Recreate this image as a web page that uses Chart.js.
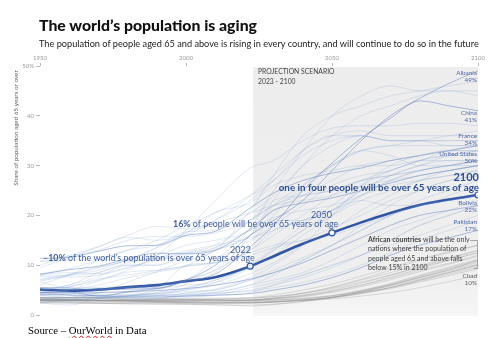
<!DOCTYPE html>
<html>
<head>
<meta charset="utf-8">
<script src="https://cdn.jsdelivr.net/npm/chart.js@4"></script>
<style>
  html, body { margin: 0; padding: 0; background: #fff; }
  body { width: 499px; height: 338px; position: relative; overflow: hidden; font-family: Lato, "Open Sans", sans-serif; }
  #wrap { position: absolute; left: 0; top: 0; width: 499px; height: 338px; }
  .title { position: absolute; left: 39px; top: 15px; font-size: 15.8px; font-weight: 900; color: #111; white-space: nowrap; }
  .subtitle { position: absolute; left: 39px; top: 38px; font-size: 9.2px; color: #222; white-space: nowrap; }
  .source { position: absolute; left: 28px; top: 325px; font-family: "Liberation Serif", "Times New Roman", serif; font-size: 10.8px; line-height: 11px; color: #000; white-space: nowrap; }
  .source u { text-decoration: underline wavy #d22; text-decoration-thickness: 1px; text-underline-offset: 1px; }
</style>
</head>
<body>
<div id="wrap"><canvas id="chart" width="499" height="338"></canvas></div>
<div class="title">The world’s population is aging</div>
<div class="subtitle">The population of people aged 65 and above is rising in every country, and will continue to do so in the future</div>
<div class="source">Source – <u>OurWorld</u> in Data</div>
<script>
// ============================
// DATA
// ============================
const years = [1950, 1960, 1970, 1980, 1990, 2000, 2010, 2022, 2030, 2040, 2050, 2060, 2070, 2080, 2090, 2100];
const xTicks = [1950, 2000, 2050, 2100];
const yTicks = [0, 10, 20, 30, 40, 50];

const world = [5.1, 4.9, 5.1, 5.6, 6.0, 6.8, 7.6, 9.8, 11.8, 14.3, 16.5, 18.6, 20.5, 22.1, 23.2, 24.1];

// highlighted countries (labelled at the right edge)
const albania  = [5.5, 5.4, 5.0, 5.2, 5.3, 7.0, 10.0, 16.0, 19.0, 23.0, 29.0, 35.0, 40.0, 43.5, 46.5, 49.0];
const china    = [4.5, 4.6, 3.8, 4.6, 5.3, 6.8, 8.2, 13.7, 18.0, 25.0, 30.5, 35.5, 39.5, 43.0, 42.0, 41.0];
const france   = [11.4, 11.6, 12.8, 13.9, 14.0, 16.0, 16.8, 21.5, 24.5, 27.0, 28.5, 29.5, 31.0, 32.0, 33.0, 34.0];
const usa      = [8.2, 9.1, 9.8, 11.3, 12.4, 12.3, 13.0, 17.3, 21.0, 22.5, 23.5, 25.0, 26.5, 28.0, 29.0, 30.0];
const bolivia  = [4.5, 4.4, 4.5, 4.7, 4.9, 5.3, 6.0, 7.2, 8.5, 10.5, 13.0, 15.5, 18.0, 20.0, 21.0, 22.0];
const pakistan = [4.2, 4.0, 3.9, 3.6, 3.6, 3.8, 4.0, 4.3, 5.0, 6.0, 7.5, 9.5, 12.0, 14.0, 15.5, 17.0];
const chad     = [3.0, 3.0, 2.9, 2.8, 2.6, 2.5, 2.4, 2.4, 2.6, 3.0, 3.5, 4.5, 5.5, 7.0, 8.5, 10.0];

// other countries (thin background lines)
const otherCountries = [
  [4.9, 5.7, 7.0, 9.0, 12.0, 17.0, 23.0, 29.5, 31.0, 35.0, 37.5, 38.0, 38.0, 38.5, 38.5, 38.0], // Japan
  [3.0, 3.0, 3.3, 3.8, 5.0, 7.0, 11.0, 17.5, 25.0, 33.0, 40.0, 44.0, 46.0, 45.0, 45.0, 44.0],   // South Korea
  [8.0, 9.3, 11.0, 13.0, 15.0, 18.0, 20.5, 24.0, 27.0, 33.0, 36.0, 36.0, 35.0, 35.0, 35.0, 35.0], // Italy
  [9.5, 11.5, 13.7, 15.6, 15.0, 16.5, 20.6, 22.5, 26.0, 28.0, 29.0, 30.0, 30.0, 31.0, 31.0, 31.0], // Germany
  [7.2, 8.2, 9.6, 11.0, 13.6, 16.7, 17.0, 20.5, 24.0, 30.0, 34.0, 36.0, 35.0, 35.0, 34.0, 34.0], // Spain
  [2.5, 3.0, 4.5, 6.6, 8.7, 11.0, 13.0, 21.0, 28.0, 36.0, 40.0, 42.0, 44.0, 45.0, 46.0, 47.0],   // Hong Kong
  [2.4, 2.0, 3.3, 4.8, 5.6, 7.2, 9.0, 16.0, 23.0, 30.0, 36.0, 40.0, 42.0, 44.0, 45.0, 45.0],     // Singapore
  [7.0, 8.0, 9.5, 11.0, 13.5, 16.0, 19.0, 24.0, 28.0, 33.0, 36.0, 37.0, 36.0, 36.0, 36.0, 36.0], // Portugal
  [6.8, 8.0, 11.0, 13.0, 14.0, 16.5, 19.0, 23.0, 27.0, 32.0, 35.0, 36.0, 35.0, 35.0, 35.0, 35.0], // Greece
  [5.0, 6.0, 8.5, 10.0, 10.0, 12.0, 13.5, 19.0, 22.0, 25.0, 30.0, 33.0, 32.0, 30.0, 30.0, 31.0], // Poland
  [10.8, 11.8, 13.0, 15.0, 15.8, 15.8, 16.5, 19.0, 22.0, 24.0, 25.0, 27.0, 28.0, 29.0, 30.0, 30.0], // UK
  [10.0, 12.0, 13.7, 16.0, 17.8, 17.3, 18.5, 20.5, 22.0, 23.0, 24.0, 26.0, 27.0, 28.0, 29.0, 30.0], // Sweden
  [7.7, 7.6, 8.0, 9.4, 11.3, 12.6, 14.0, 19.0, 23.0, 24.0, 25.0, 27.0, 28.0, 29.0, 30.0, 31.0],  // Canada
  [8.2, 8.5, 8.3, 9.6, 11.0, 12.4, 13.5, 17.0, 19.5, 21.0, 22.0, 24.0, 26.0, 27.0, 28.0, 29.0],  // Australia
  [5.0, 6.0, 7.7, 10.0, 10.0, 12.4, 13.0, 16.0, 19.0, 19.0, 21.0, 23.0, 22.0, 22.0, 24.0, 26.0], // Russia
  [3.0, 3.0, 3.5, 4.0, 4.5, 5.3, 7.0, 10.0, 13.5, 18.0, 22.0, 26.0, 29.0, 31.0, 33.0, 34.0],     // Brazil
  [3.2, 3.2, 3.4, 3.8, 4.5, 6.2, 8.6, 14.5, 20.0, 26.0, 30.0, 33.0, 34.0, 34.0, 34.0, 34.0],     // Thailand
  [3.5, 3.5, 3.5, 3.2, 3.3, 4.4, 5.2, 7.5, 10.0, 14.0, 20.0, 26.0, 30.0, 32.0, 33.0, 33.0],      // Iran
  [5.5, 5.0, 5.2, 5.5, 5.5, 6.0, 6.5, 9.5, 13.0, 17.0, 20.0, 23.0, 25.0, 27.0, 28.0, 29.0],      // Vietnam
  [3.3, 3.5, 3.7, 4.0, 4.2, 5.0, 6.0, 8.3, 10.5, 14.0, 17.0, 21.0, 24.0, 27.0, 29.0, 30.0],      // Mexico
  [4.0, 4.2, 5.0, 5.5, 6.0, 7.0, 9.0, 13.0, 16.0, 20.0, 24.0, 27.0, 29.0, 31.0, 32.0, 32.0],     // Chile
  [3.2, 3.5, 4.4, 4.5, 4.2, 5.5, 7.0, 9.5, 12.0, 16.0, 20.0, 24.0, 27.0, 29.0, 30.0, 31.0],      // Turkey
  [3.2, 3.4, 3.6, 3.8, 4.3, 5.0, 6.5, 10.0, 13.0, 17.0, 21.0, 25.0, 28.0, 30.0, 31.0, 31.0],     // Colombia
  [3.0, 3.0, 3.3, 3.6, 3.8, 4.4, 5.0, 7.0, 8.5, 11.0, 14.0, 17.0, 20.0, 23.0, 25.0, 27.0],       // India
  [4.0, 3.5, 3.4, 3.6, 3.9, 4.7, 5.0, 7.0, 9.0, 11.5, 14.0, 17.0, 20.0, 22.0, 23.0, 24.0],       // Indonesia
  [3.5, 3.0, 2.8, 3.0, 3.0, 3.5, 4.0, 5.5, 6.5, 8.0, 10.0, 12.0, 15.0, 18.0, 20.0, 22.0],        // Philippines
  [4.2, 5.6, 7.2, 8.0, 8.9, 9.8, 10.5, 12.0, 13.5, 15.0, 17.5, 20.0, 23.0, 25.0, 27.0, 28.0],    // Argentina
  [8.0, 8.0, 8.5, 10.5, 11.5, 12.9, 14.0, 15.5, 17.0, 19.0, 21.0, 24.0, 27.0, 29.0, 30.0, 31.0], // Uruguay
  [4.0, 5.0, 6.8, 8.6, 9.0, 9.8, 10.5, 12.5, 14.0, 15.0, 16.0, 18.0, 20.0, 22.0, 23.0, 24.0],    // Israel
  [4.6, 4.0, 3.5, 3.4, 3.4, 4.0, 4.6, 6.0, 8.0, 11.0, 14.0, 18.0, 22.0, 25.0, 27.0, 28.0],       // Bangladesh
  [6.6, 5.5, 5.5, 5.7, 5.6, 10.0, 10.5, 13.0, 17.0, 19.0, 21.0, 25.0, 28.0, 30.0, 32.0, 33.0],   // Armenia
  [4.5, 5.0, 6.0, 7.5, 8.6, 9.8, 13.0, 16.0, 22.0, 26.0, 30.0, 33.0, 34.0, 35.0, 36.0, 37.0],    // Cuba
  [6.0, 8.0, 9.0, 11.0, 12.0, 14.0, 15.0, 17.0, 21.0, 24.0, 27.0, 30.0, 31.0, 32.0, 33.0, 33.0], // Ukraine
  [10.7, 11.0, 11.2, 10.8, 11.4, 11.2, 11.5, 15.0, 18.0, 22.0, 26.0, 28.0, 29.0, 31.0, 32.0, 33.0], // Ireland
  [2.5, 2.7, 2.8, 3.0, 3.2, 3.8, 4.3, 5.0, 6.0, 7.5, 9.5, 12.0, 15.0, 18.0, 20.0, 22.0],         // Guatemala
  [4.5, 4.5, 4.2, 4.0, 3.8, 3.8, 3.9, 4.5, 6.0, 8.0, 10.0, 12.0, 14.0, 16.0, 18.0, 20.0],        // Mongolia
  [3.5, 3.6, 3.6, 3.7, 3.9, 4.0, 4.5, 6.0, 7.0, 8.5, 11.0, 14.0, 17.0, 19.0, 21.0, 23.0],        // Nepal
  [4.0, 4.0, 4.0, 4.0, 4.0, 4.2, 4.4, 4.8, 5.5, 6.5, 8.0, 10.0, 12.5, 15.0, 17.0, 19.0]          // Haiti
];

// African countries (gray lines)
const africanCountries = [
  [3.0, 3.0, 2.9, 2.9, 2.8, 2.8, 2.8, 2.8, 3.0, 3.3, 3.8, 4.8, 6.0, 7.5, 9.0, 11.0],   // Nigeria
  [2.5, 2.4, 2.3, 2.3, 2.2, 2.3, 2.5, 2.6, 2.7, 2.9, 3.2, 3.8, 4.5, 5.5, 6.7, 8.0],    // Niger
  [3.0, 3.0, 3.0, 3.0, 3.0, 3.1, 3.2, 3.3, 3.7, 4.3, 5.5, 7.0, 8.5, 10.0, 11.5, 13.0], // Ethiopia
  [3.6, 3.5, 3.4, 3.0, 2.8, 2.6, 2.6, 2.9, 3.4, 4.4, 5.6, 7.2, 9.0, 11.0, 12.5, 14.0], // Kenya
  [3.0, 3.0, 2.9, 2.9, 2.9, 2.9, 2.9, 3.0, 3.1, 3.4, 3.9, 4.8, 6.0, 7.5, 9.0, 10.5],   // DR Congo
  [2.9, 2.9, 2.8, 2.8, 2.8, 2.9, 3.0, 3.0, 3.3, 3.8, 4.7, 6.0, 7.6, 9.3, 11.0, 12.5],  // Tanzania
  [2.8, 2.6, 2.5, 2.4, 2.4, 2.2, 2.0, 2.0, 2.2, 2.7, 3.5, 4.6, 6.0, 7.6, 9.2, 10.8],   // Uganda
  [3.2, 3.0, 2.8, 2.6, 2.5, 2.4, 2.3, 2.4, 2.6, 3.0, 3.6, 4.6, 5.8, 7.2, 8.7, 10.2],   // Angola
  [3.0, 3.0, 2.9, 2.8, 2.7, 2.6, 2.5, 2.5, 2.6, 2.9, 3.4, 4.3, 5.5, 6.8, 8.2, 9.6],    // Mali
  [3.1, 3.0, 2.9, 2.9, 2.8, 2.7, 2.6, 2.5, 2.7, 3.0, 3.5, 4.3, 5.3, 6.6, 7.9, 9.3],    // Somalia
  [3.4, 3.3, 3.2, 3.2, 3.2, 3.1, 3.0, 2.8, 2.9, 3.2, 3.9, 5.0, 6.2, 7.8, 9.4, 11.0],   // Mozambique
  [2.8, 2.8, 2.9, 3.0, 3.1, 3.3, 3.4, 3.5, 4.0, 5.0, 6.2, 7.8, 9.5, 11.2, 12.7, 14.0], // Ghana
  [3.1, 3.1, 3.0, 3.0, 3.0, 3.1, 3.2, 3.4, 3.7, 4.4, 5.3, 6.6, 8.0, 9.6, 11.0, 12.5],  // Sudan
  [2.8, 2.6, 2.4, 2.2, 2.2, 2.1, 2.1, 1.8, 2.1, 2.7, 3.6, 4.8, 6.3, 8.0, 9.6, 11.2],   // Zambia
  [3.5, 3.5, 3.5, 3.4, 3.3, 3.2, 3.1, 3.0, 3.2, 3.7, 4.5, 5.7, 7.1, 8.7, 10.2, 11.8],  // Cameroon
  [3.0, 3.0, 3.0, 3.0, 3.0, 3.0, 2.9, 3.0, 3.4, 4.0, 5.0, 6.4, 8.0, 9.7, 11.3, 12.9],  // Madagascar
  [2.4, 2.4, 2.4, 2.5, 2.6, 2.8, 3.0, 3.0, 3.3, 3.9, 4.8, 6.0, 7.4, 9.0, 10.4, 12.0]   // Senegal
];

const BLUE = "#2f55a4";
const pts = arr => arr.map((v, i) => ({ x: years[i], y: v }));

function thinLine(arr, color, width) {
  return {
    data: pts(arr),
    borderColor: color,
    borderWidth: width,
    pointRadius: 0,
    cubicInterpolationMode: "monotone"
  };
}

const datasets = [];
africanCountries.forEach(c => datasets.push(thinLine(c, "rgba(150,150,150,0.38)", 0.8)));
otherCountries.forEach(c => datasets.push(thinLine(c, "rgba(115,145,200,0.26)", 0.8)));
datasets.push(thinLine(chad, "rgba(140,140,140,0.6)", 0.9));
[albania, china, france, usa, bolivia, pakistan].forEach(c =>
  datasets.push(thinLine(c, "rgba(95,125,185,0.55)", 0.9)));

// world line, markers at 2022 / 2050 / 2100
const markYears = [2022, 2050, 2100];
datasets.push({
  data: pts(world),
  borderColor: BLUE,
  borderWidth: 2.6,
  cubicInterpolationMode: "monotone",
  pointRadius: ctx => markYears.includes(years[ctx.dataIndex]) ? 3 : 0,
  pointBackgroundColor: "#fff",
  pointBorderColor: BLUE,
  pointBorderWidth: 1.2
});

// ============================
// PLUGINS
// ============================
const projectionBg = {
  id: "projectionBg",
  beforeDatasetsDraw(chart) {
    const { ctx, chartArea: a, scales: { x } } = chart;
    const x0 = x.getPixelForValue(2023);
    const g = ctx.createLinearGradient(0, a.top, 0, a.bottom);
    g.addColorStop(0, "#ededed");
    g.addColorStop(0.85, "#efefef");
    g.addColorStop(1, "#f6f6f6");
    ctx.save();
    ctx.fillStyle = g;
    ctx.fillRect(x0, a.top + 1, a.right - x0, a.bottom - a.top);
    ctx.restore();
  }
};

function drawRuns(ctx, runs, x, y, size, color, align) {
  ctx.save();
  ctx.fillStyle = color;
  ctx.textBaseline = "alphabetic";
  ctx.textAlign = "left";
  let total = 0;
  runs.forEach(r => {
    ctx.font = (r.bold ? "bold " : "") + size + "px Lato, sans-serif";
    r.w = ctx.measureText(r.t).width;
    total += r.w;
  });
  let cx = align === "right" ? x - total : x;
  runs.forEach(r => {
    ctx.font = (r.bold ? "bold " : "") + size + "px Lato, sans-serif";
    ctx.fillText(r.t, cx, y);
    cx += r.w;
  });
  ctx.restore();
}

const annotations = {
  id: "annotations",
  afterDatasetsDraw(chart) {
    const { ctx } = chart;
    const ANN = "#3f5e9f";

    // projection label
    drawRuns(ctx, [{ t: "PROJECTION SCENARIO" }], 258, 74, 6.8, "#444");
    drawRuns(ctx, [{ t: "2023 - 2100" }], 258, 84, 6.8, "#444");

    // world milestones
    drawRuns(ctx, [{ t: "–" }, { t: "10%", bold: true }, { t: " of the world’s population is over 65 years of age" }], 43, 261, 8.9, ANN);
    drawRuns(ctx, [{ t: "2022" }], 251, 253, 9, ANN, "right");
    drawRuns(ctx, [{ t: "16%", bold: true }, { t: " of people will be over 65 years of age" }], 173, 227, 8.9, ANN);
    drawRuns(ctx, [{ t: "2050" }], 332, 218, 9, ANN, "right");
    drawRuns(ctx, [{ t: "2100", bold: true }], 479, 181, 11, "#2b4f96", "right");
    drawRuns(ctx, [{ t: "one in four people will be over 65 years of age", bold: true }], 479, 191, 9.8, "#2b4f96", "right");

    // country labels
    const lab = "#5069a8";
    [["Albania", "49%", 75], ["China", "41%", 115], ["France", "34%", 138],
     ["United States", "30%", 156], ["Bolivia", "22%", 205], ["Pakistan", "17%", 224]]
      .forEach(([n, v, y]) => {
        drawRuns(ctx, [{ t: n }], 477, y, 6.4, lab, "right");
        drawRuns(ctx, [{ t: v }], 477, y + 7, 6.4, lab, "right");
      });
    drawRuns(ctx, [{ t: "Chad" }], 477, 278, 6.4, "#666", "right");
    drawRuns(ctx, [{ t: "10%" }], 477, 285, 6.4, "#666", "right");

    // African note
    const nc = "#444";
    drawRuns(ctx, [{ t: "African countries", bold: true }, { t: " will be the only" }], 368, 242, 7, nc);
    drawRuns(ctx, [{ t: "nations where the population of" }], 368, 251, 7, nc);
    drawRuns(ctx, [{ t: "people aged 65 and above falls" }], 368, 261, 7, nc);
    drawRuns(ctx, [{ t: "below 15% in 2100" }], 368, 270, 7, nc);
    ctx.save();
    ctx.strokeStyle = "#888";
    ctx.lineWidth = 0.7;
    ctx.beginPath();
    ctx.moveTo(470, 240.5);
    ctx.lineTo(477.5, 240.5);
    ctx.lineTo(477.5, 268.5);
    ctx.lineTo(474, 268.5);
    ctx.stroke();
    ctx.restore();

    // y axis title
    ctx.save();
    ctx.translate(16, 128);
    ctx.rotate(-Math.PI / 2);
    ctx.fillStyle = "#666";
    ctx.font = "6.3px Lato, sans-serif";
    ctx.textAlign = "center";
    ctx.textBaseline = "middle";
    ctx.fillText("Share of population aged 65 years or over", 0, 0);
    ctx.restore();
  }
};

// ============================
// CHART
// ============================
new Chart(document.getElementById("chart").getContext("2d"), {
  type: "line",
  data: { datasets },
  options: {
    responsive: false,
    animation: false,
    events: [],
    layout: { padding: { top: 52, left: 0, right: 21, bottom: 23 } },
    plugins: { legend: { display: false }, tooltip: { enabled: false } },
    scales: {
      x: {
        type: "linear",
        position: "top",
        min: 1950,
        max: 2100,
        afterBuildTicks: s => { s.ticks = xTicks.map(v => ({ value: v })); },
        afterFit: s => { s.height = 14; },
        ticks: { color: "#999", font: { family: "Lato", size: 6 }, padding: 1, maxRotation: 0, autoSkip: false, callback: v => String(v) },
        grid: { drawOnChartArea: false, tickLength: 3, color: "#bbb" },
        border: { display: false }
      },
      y: {
        min: 0,
        max: 50,
        afterBuildTicks: s => { s.ticks = yTicks.map(v => ({ value: v })); },
        afterFit: s => { s.width = 40; },
        ticks: { color: "#999", font: { family: "Lato", size: 6 }, padding: 2, callback: v => v === 50 ? "50%" : String(v) },
        grid: { drawOnChartArea: false, tickLength: 4, color: "#bbb" },
        border: { display: false }
      }
    }
  },
  plugins: [projectionBg, annotations]
});
</script>
</body>
</html>
